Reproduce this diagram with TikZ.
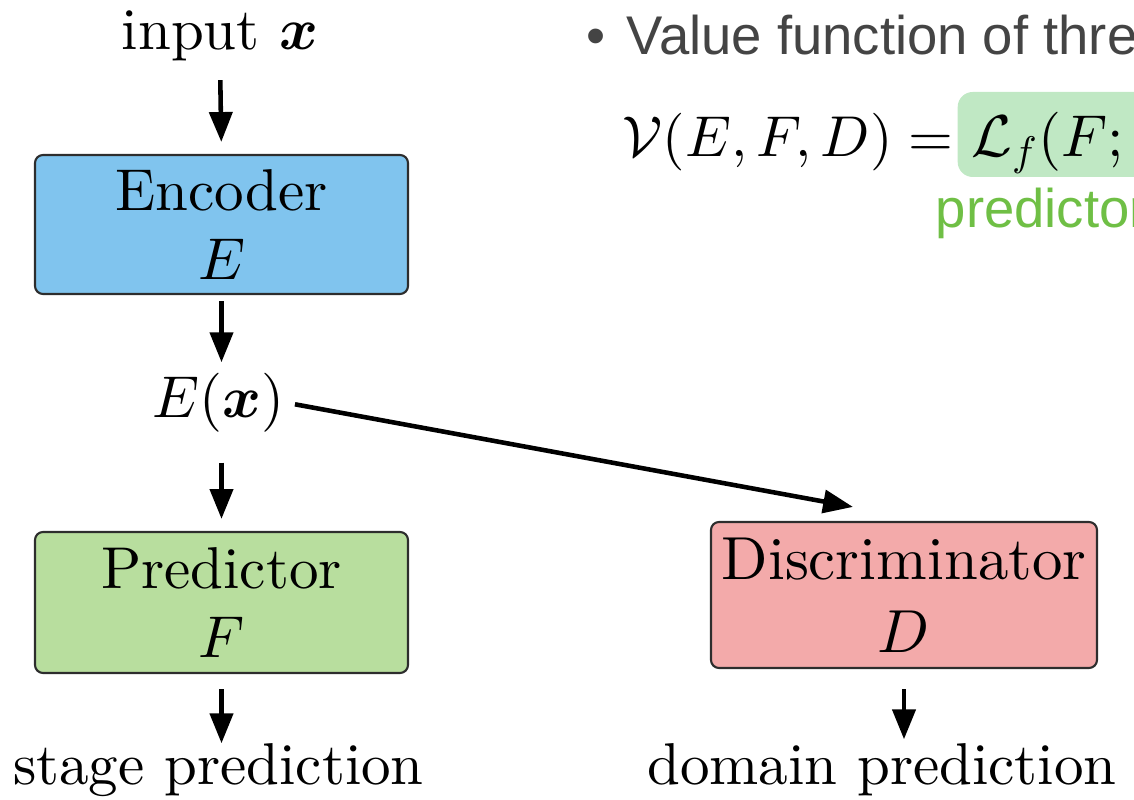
\documentclass[tikz,border=0pt]{standalone}
\usepackage{fontspec}
\usepackage{bm}
\setmainfont{lmroman10-regular.otf}[ItalicFont=lmroman10-italic.otf, BoldFont=lmroman10-bold.otf, BoldItalicFont=lmroman10-bolditalic.otf]
\newfontfamily\slidefont{Liberation Sans}
\DeclareFontShape{OT1}{cmr}{m}{n}{<->cmr10}{}
\DeclareFontShape{OML}{cmm}{m}{it}{<->cmmi10}{}
\DeclareFontShape{OML}{cmm}{b}{it}{<->cmmib10}{}
\DeclareFontShape{OMS}{cmsy}{m}{n}{<->cmsy10}{}
\DeclareFontShape{OMS}{cmsy}{b}{n}{<->cmbsy10}{}
\usetikzlibrary{arrows.meta, positioning}

\definecolor{encblue}{RGB}{128,196,238}
\definecolor{predgreen}{RGB}{184,222,158}
\definecolor{discred}{RGB}{243,170,170}
\definecolor{boxgray}{RGB}{45,45,45}
\definecolor{slidegray}{RGB}{68,68,68}
\definecolor{lossgreen}{RGB}{192,232,196}
\definecolor{notegreen}{RGB}{111,191,69}

\tikzset{
  block/.style={draw=boxgray, line width=0.6pt, rounded corners=0.08cm, align=center, inner sep=0},
  txt/.style={inner sep=0},
  flow/.style={-{Triangle[length=8.5pt,width=6.5pt]}, line width=1.3pt},
  slide/.style={inner sep=0, font=\slidefont\fontsize{15.5}{19}\selectfont}
}

\begin{document}
\begin{tikzpicture}[font=\fontsize{16.8}{19.6}\selectfont]

	\useasboundingbox (0,0) rectangle (11.34,8);

	% Column positions
	\def\leftcol{2.215}
	\def\rightcol{9.04}

	% Left column
	\node[txt, anchor=base] (in) at (2.2, 7.50) {input $\bm{x}$};
	\node[block, fill=encblue, minimum width=3.73cm, minimum height=1.39cm] (enc) at (\leftcol, 5.755) {Encoder\\$E$};
	\node[txt] (ex) at (2.185, 3.975) {$E(\bm{x})$};
	\node[block, fill=predgreen, minimum width=3.73cm, minimum height=1.41cm] (pred) at (\leftcol, 1.975) {Predictor\\$F$};
	\node[txt, anchor=base] (stage) at (2.185, 0.15) {stage prediction};

	% Right column
	\node[block, fill=discred, minimum width=3.86cm, minimum height=1.46cm,
	      font=\fontsize{17.3}{20.8}\selectfont] (disc) at (\rightcol, 2.05) {Discriminator\\$D$};
	\node[txt, anchor=base] (dom) at (8.82, 0.15) {domain prediction};
	\coordinate (dtip) at ([xshift=-0.51cm, yshift=0.14cm]disc.north);

	% Arrows
	\draw[flow, shorten <=0.18cm, shorten >=0.12cm] (in.south) -- (enc.north);
	\draw[flow, shorten <=0.06cm, shorten >=0.1cm] (enc.south) -- (enc.south |- ex.north);
	\draw[flow, shorten <=0.3cm, shorten >=0.12cm] (ex.south -| pred) -- (pred.north);
	\draw[flow, shorten <=0.15cm] (pred.south) -- (pred.south |- stage.north);
	\draw[flow, shorten <=0.2cm, shorten >=0.04cm] (disc.south) -- (disc.south |- dom.north);
	\draw[flow, shorten <=0.1cm] (ex.east) -- (dtip);

	% Slide text (cut at the right edge)
	\node[slide, text=slidegray, anchor=base west] (bul) at (5.86, 7.45) {•};
	\node[slide, text=slidegray, anchor=base west] (vtitle) at (6.26, 7.45) {Value function of thre};
	\node[txt, anchor=base west, font=\fontsize{16.4}{19.6}\selectfont] (vfun) at (6.22, 6.43) {$\mathcal{V}(E,F,D) =$};
	\node[txt, fill=lossgreen, rounded corners=0.15cm, anchor=base west, inner xsep=0.09cm,
	      text height=0.65cm, text depth=0.2cm, minimum width=2.6cm] (floss)
	      at (9.57, 6.43) {$\mathcal{L}_f(F;E)$};
	\node[slide, text=notegreen, anchor=base west] (fnote) at (9.35, 5.72) {predictor};

\end{tikzpicture}
\end{document}
